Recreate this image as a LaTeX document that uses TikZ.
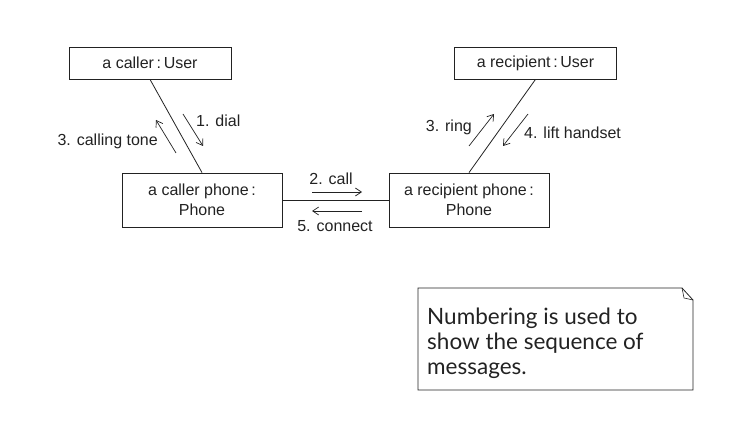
\documentclass[tikz,border=0pt]{standalone}
\usepackage{fontspec}
\setmainfont{Liberation Sans}
\newfontfamily\notefont{Lato}
\usetikzlibrary{arrows.meta}

\definecolor{ink}{HTML}{222222}

\tikzset{
  userbox/.style={draw=ink, line width=0.8pt, minimum width=162pt, minimum height=32pt, inner sep=0pt, font=\fontsize{16}{20}\selectfont, text=ink},
  phonebox/.style={userbox, minimum width=160pt, minimum height=54pt, align=center},
  msg/.style={draw=ink, line width=0.7pt, -{Straight Barb[length=6pt,width=8pt]}},
  msglabel/.style={font=\fontsize{16}{19}\selectfont, inner sep=0pt, text=ink},
}

\begin{document}
\begin{tikzpicture}[x=1pt,y=-1pt]
		%%%%% START %%%%%
		\useasboundingbox (0,0) rectangle (730,435);
		
		\node[userbox] (callerUser) at (150,63) {a caller\,:\,User};
		\node[userbox] (recipUser) at (535.5,63) {a recipient\,:\,User};
		\node[phonebox] (callerPhone) at (202,200) {a caller phone\,:\\Phone};
		\node[phonebox] (recipPhone) at (469,200) {a recipient phone\,:\\Phone};
		
		\draw[draw=ink, line width=0.8pt] (callerUser.south) -- (callerPhone.north);
		\draw[draw=ink, line width=0.8pt] (recipUser.south) -- (recipPhone.north);
		\draw[draw=ink, line width=0.8pt] (callerPhone.east) -- (recipPhone.west);
		
		% caller side
		\coordinate (dialA) at (183,114);
		\coordinate (dialB) at (203,146);
		\draw[msg] (dialA) -- (dialB);
		\node[msglabel, anchor=west] (dialLbl) at (196,121) {1. dial};
		
		\coordinate (toneA) at (176,153);
		\coordinate (toneB) at (156,120);
		\draw[msg] (toneA) -- (toneB);
		\node[msglabel, anchor=east] (toneLbl) at (158,141) {3. calling tone};
		
		% recipient side
		\coordinate (ringA) at (469,146);
		\coordinate (ringB) at (494,114);
		\draw[msg] (ringA) -- (ringB);
		\node[msglabel, anchor=east] (ringLbl) at (472,127) {3. ring};
		
		\coordinate (liftA) at (528,114);
		\coordinate (liftB) at (503,146);
		\draw[msg] (liftA) -- (liftB);
		\node[msglabel, anchor=west] (liftLbl) at (524,133) {4. lift handset};
		
		% between phones
		\coordinate (callA) at (312,192);
		\coordinate (callB) at (362,192);
		\draw[msg] (callA) -- (callB);
		\node[msglabel] (callLbl) at (331,179) {2. call};
		
		\coordinate (connA) at (362,211);
		\coordinate (connB) at (312,211);
		\draw[msg] (connA) -- (connB);
		\node[msglabel] (connLbl) at (335,226) {5. connect};
		
		% note
		\draw[draw=ink, line width=0.8pt] (418,288) -- (682,288) -- (693,300) -- (693,390) -- (418,390) -- cycle;
		\draw[draw=ink, line width=0.6pt] (682,288) -- (684,298) -- (693,300);
		\node[anchor=base west, align=left, inner sep=0pt, text=ink, font=\notefont\fontsize{22.5}{25}\selectfont] (noteText) at (427,374)
			{Numbering is used to\\show the sequence of\\messages.};
		
		%%%%% END %%%%%
\end{tikzpicture}
\end{document}
